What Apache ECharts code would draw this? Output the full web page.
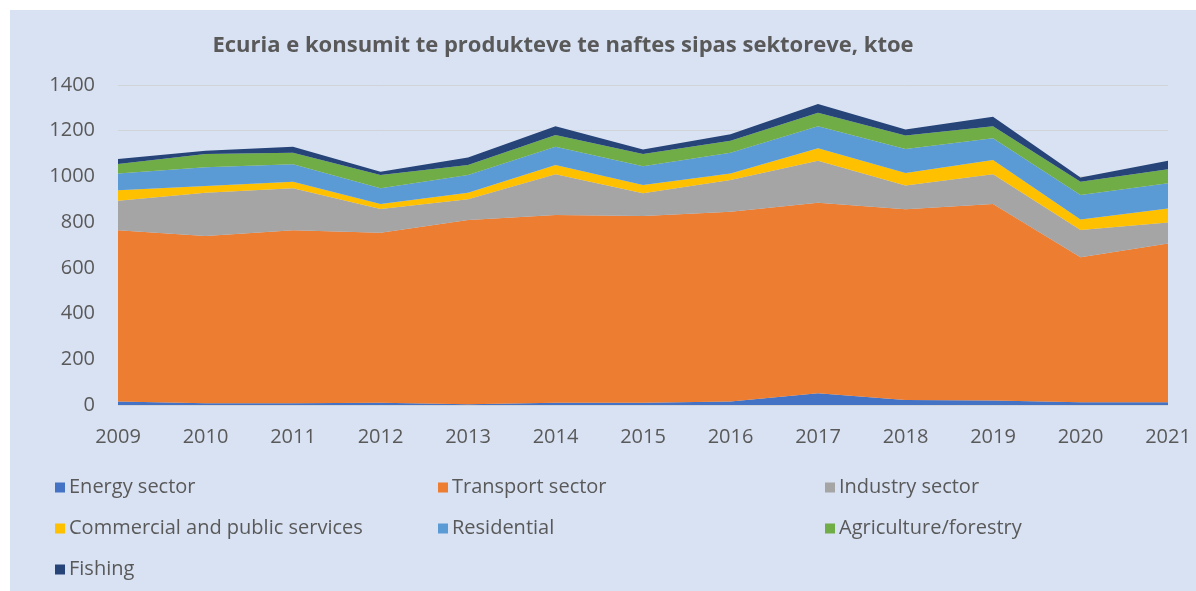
<!DOCTYPE html>
<html>
<head>
<meta charset="utf-8">
<script src="https://cdn.jsdelivr.net/npm/echarts@6/dist/echarts.min.js"></script>
<style>
  html, body { margin: 0; padding: 0; background: #fff; }
  #chart { width: 1196px; height: 591px; }
</style>
</head>
<body>
<div id="chart"></div>
<script>
const years = ['2009', '2010', '2011', '2012', '2013', '2014', '2015', '2016', '2017', '2018', '2019', '2020', '2021']

// ktoe by sector
const energy      = [15, 8, 8, 10, 3, 10, 10, 15, 51, 22, 20, 12, 12]
const transport   = [750, 731, 757, 744, 806, 821, 817, 831, 834, 834, 859, 634, 695]
const industry    = [129, 190, 183, 103, 91, 179, 99, 138, 184, 104, 130, 120, 91]
const commercial  = [46, 29, 29, 22, 29, 40, 36, 29, 54, 55, 63, 46, 62]
const residential = [73, 82, 76, 69, 77, 80, 83, 91, 97, 105, 95, 107, 110]
const agriculture = [41, 58, 51, 58, 44, 51, 53, 52, 59, 59, 53, 58, 61]
const fishing     = [22, 14, 26, 15, 33, 39, 20, 29, 38, 26, 41, 18, 38]

const yTicks = { min: 0, max: 1400, interval: 200 }

const names = ['Energy sector', 'Transport sector', 'Industry sector',
  'Commercial and public services', 'Residential', 'Agriculture/forestry', 'Fishing']
const colors = ['#4472C4', '#ED7D31', '#A5A5A5', '#FFC000', '#5B9BD5', '#70AD47', '#264478']
const values = [energy, transport, industry, commercial, residential, agriculture, fishing]

const FONT = '"Open Sans", "Noto Sans", sans-serif'
const TXT = '#595959'

function legendCol(left, data) {
  return {
    orient: 'vertical',
    left: left,
    top: 472,
    itemWidth: 10,
    itemHeight: 10,
    itemGap: 20,
    icon: 'rect',
    selectedMode: false,
    data: data,
    textStyle: { color: TXT, fontSize: 20, fontFamily: FONT, lineHeight: 21, padding: [0, 0, 0, -1] }
  }
}

const chart = echarts.init(document.getElementById('chart'))
chart.setOption({
  backgroundColor: '#ffffff',
  animation: false,
  color: colors,
  graphic: [{
    type: 'rect',
    left: 10, top: 10,
    shape: { width: 1186, height: 581 },
    style: { fill: '#D9E2F3' },
    z: -10
  }],
  title: {
    text: 'Ecuria e konsumit te produkteve te naftes sipas sektoreve, ktoe',
    left: 558,
    textAlign: 'center',
    top: 30,
    textStyle: { color: TXT, fontSize: 22, fontWeight: 'bold', fontFamily: FONT }
  },
  legend: [
    legendCol(50, [names[0], names[3], names[6]]),
    legendCol(433, [names[1], names[4]]),
    legendCol(820, [names[2], names[5]])
  ],
  grid: { left: 118, right: 28, top: 85, bottom: 186 },
  xAxis: {
    type: 'category',
    data: years,
    boundaryGap: false,
    axisLine: { show: false },
    axisTick: { show: false },
    axisLabel: { color: TXT, fontSize: 20, fontFamily: FONT, margin: 22 }
  },
  yAxis: {
    type: 'value',
    min: yTicks.min,
    max: yTicks.max,
    interval: yTicks.interval,
    axisLine: { show: false },
    axisTick: { show: false },
    splitLine: { lineStyle: { color: '#D0D3D8', width: 1 } },
    axisLabel: { color: TXT, fontSize: 20, fontFamily: FONT, margin: 23, formatter: v => String(v) }
  },
  series: values.map((v, i) => ({
    name: names[i],
    type: 'line',
    stack: 'total',
    data: v,
    showSymbol: false,
    symbol: 'none',
    lineStyle: { width: 0 },
    areaStyle: { color: colors[i], opacity: 1 },
    itemStyle: { color: colors[i] }
  }))
})
</script>
</body>
</html>
